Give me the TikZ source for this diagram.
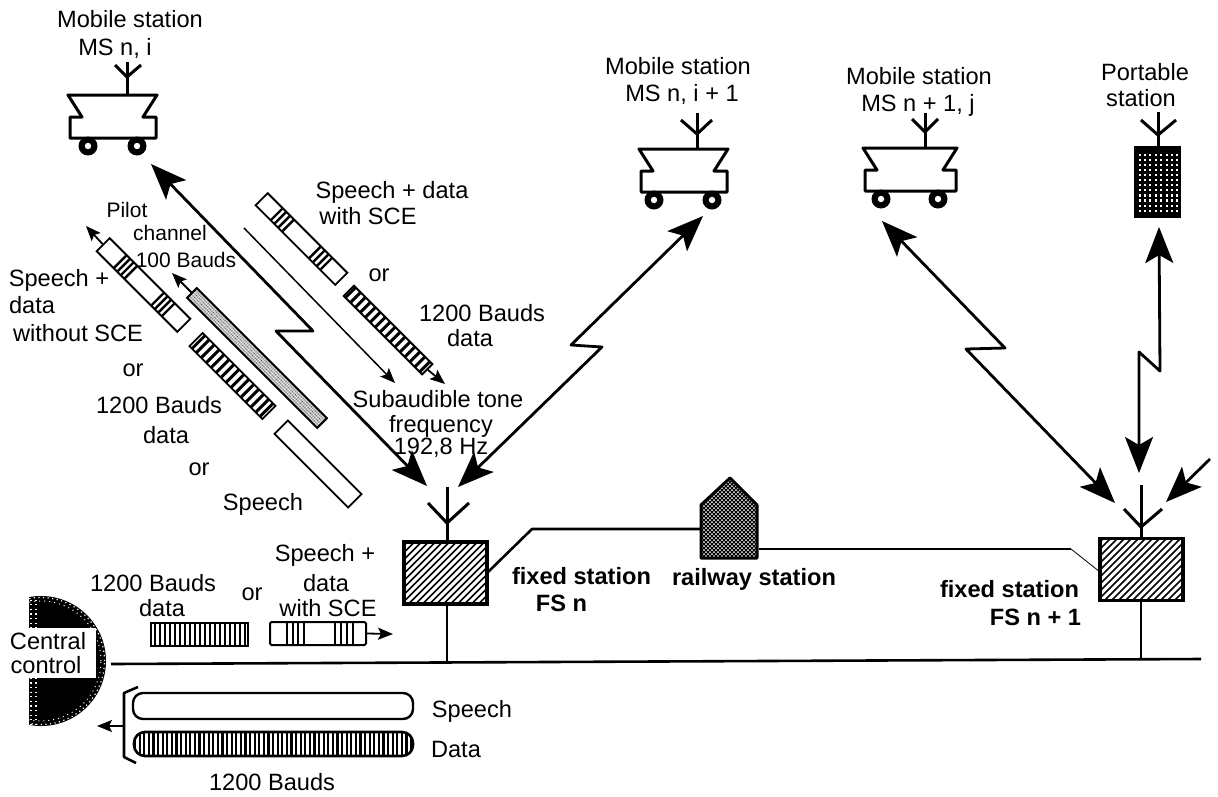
\documentclass[tikz,border=0pt]{standalone}
\usepackage{fontspec}
\setmainfont{Liberation Sans}
\usetikzlibrary{arrows.meta}
\tikzset{
  x=1pt,y=-1pt,
  txt/.style={anchor=base,inner sep=0pt,yshift=-8.5pt,font=\fontsize{23.6}{27}\selectfont},
  txtsmall/.style={anchor=base,inner sep=0pt,yshift=-7.5pt,font=\fontsize{21}{25}\selectfont},
  txtbold/.style={anchor=base,inner sep=0pt,yshift=-8.5pt,font=\fontsize{23.6}{27}\selectfont\bfseries},
  radiolink/.style={line width=2.8pt,line join=round,{Stealth[length=36pt,width=28pt,inset=8pt]}-{Stealth[length=36pt,width=28pt,inset=8pt]}},
  radiotail/.style={line width=2.8pt,-{Stealth[length=36pt,width=28pt,inset=8pt]}},
  smallarrow/.style={line width=1.8pt,-{Stealth[length=15pt,width=12pt,inset=3pt]}},
  thinarrow/.style={line width=1.5pt,-{Stealth[length=15pt,width=12pt,inset=3pt]}},
  wire/.style={line width=2.6pt,line join=round},
  obarbox/.style={draw,line width=1.8pt,inner sep=0pt,rotate=-45,minimum height=#1},
  fsbox/.style={draw,line width=3.4pt,inner sep=0pt,minimum width=83pt,minimum height=62pt},
  pics/car/.style n args={3}{code={
    \draw[line width=3pt,line join=round] (0,0) -- (14,22) -- (2,22) -- (2,43) -- ({#1-1},43) -- ({#1-1},22) -- ({#1-14},22) -- (#1,0) -- cycle;
    \fill (#2,51) circle[radius=9.5pt]; \fill (#3,51) circle[radius=9.5pt];
    \fill[white] (#2,51) circle[radius=3.2pt]; \fill[white] (#3,51) circle[radius=3.2pt];
  }},
}
% oblique bar: name, cx, cy, length, width, stripes (positions along the bar), stripe width
\newcommand{\obar}[7]{%
  \node[obarbox=#5,minimum width=#4pt,fill=white] (#1) at (#2,#3) {};
  \begin{scope}[shift={(#2,#3)},rotate=-45]
    \foreach \s in {#6} {\draw[line width=#7pt] (\s pt,-#5pt/2) -- (\s pt,#5pt/2);}
  \end{scope}}
% antenna: x, ytop, yarm, yjunction, ybottom, xleft, xright
\newcommand{\antenna}[7]{%
  \draw[line width=3pt] (#1,#2) -- (#1,#5);
  \draw[line width=3pt,line join=miter] (#6,#3) -- (#1,#4) -- (#7,#3);}
% hatched box: name, cx, cy
\newcommand{\hatchbox}[3]{%
  \begin{scope}
    \clip (#2-41.5,#3-31) rectangle (#2+41.5,#3+31);
    \foreach \a in {-100,-93,...,90} {\draw[line width=1.7pt] (#2+\a,#3+31) -- (#2+\a+62,#3-31);}
  \end{scope}
  \node[fsbox] (#1) at (#2,#3) {};}
\begin{document}
\begin{tikzpicture}
\useasboundingbox (0,0) rectangle (1218,796);
\fill[white] (0,0) rectangle (1218,796);

% ---------- vehicles ----------
\pic at (68,95) {car={89}{20}{69}};
\antenna{127}{62}{65}{77}{95}{115}{141}
\pic at (639,149) {car={89}{15}{73}};
\antenna{697}{113}{120}{134}{149}{681}{712}
\pic at (863,148) {car={94}{18}{75}};
\antenna{925}{113}{119}{132}{148}{912}{938}

% portable station
\fill (1134,146) rectangle (1181,218);
\foreach \i in {0,...,7} \foreach \j in {0,...,11}
  {\fill[white] (1138.5+\i*5.4,154+\j*5.05) rectangle ++(2.1,2.1);}
\node[inner sep=0pt,minimum width=47pt,minimum height=72pt] (ps) at (1157.5,182) {};
\antenna{1158}{112}{120}{135}{146}{1141}{1176}

% ---------- fixed stations ----------
\hatchbox{fsa}{445.5}{573}
\hatchbox{fsb}{1141.5}{569.5}
\antenna{447}{487}{503}{523}{542}{428}{469}
\antenna{1141}{485}{509}{527}{539}{1124}{1162}

% railway station
\begin{scope}
  \clip (730,478) -- (757,505) -- (757,558) -- (701,558) -- (701,505) -- cycle;
  \fill (695,470) rectangle (765,565);
  \foreach \i in {0,...,14} \foreach \j in {0,...,22}
    {\fill[white] (700+\i*4,478+\j*4) circle[radius=1pt];
     \fill[white] (702+\i*4,480+\j*4) circle[radius=1pt];}
\end{scope}
\draw[line width=3pt,line join=round] (730,478) -- (757,505) -- (757,558) -- (701,558) -- (701,505) -- cycle;
\coordinate (rsw) at (701,529);
\coordinate (rse) at (759,549);
\coordinate (k1) at (532,529);
\coordinate (k2) at (1071,549);
\coordinate (fsaw) at (487,573);
\coordinate (fsbw) at (1100,572);
\draw[wire] (fsaw) -- (k1) -- (rsw);
\draw[line width=1.8pt] (rse) -- (k2);
\draw[line width=0.8pt] (k2) -- (fsbw);

% bus
\coordinate (busl) at (111,664);
\coordinate (busr) at (1201,659);
\coordinate (busa) at (447,662);
\coordinate (busb) at (1141,659);
\draw[line width=2.6pt] (busl) -- (busr);
\draw[line width=2.6pt] (447,604) -- (busa);
\draw[line width=2.6pt] (1141,600) -- (busb);

% ---------- radio links ----------
\coordinate (ta1) at (151,164); \coordinate (za1) at (313,331); \coordinate (zb1) at (276,331); \coordinate (tb1) at (427,486);
\draw[radiolink] (ta1) -- (za1) -- (zb1) -- (tb1);
\coordinate (ta2) at (458,487); \coordinate (za2) at (602,347); \coordinate (zb2) at (571,345); \coordinate (tb2) at (703,216);
\draw[radiolink] (ta2) -- (za2) -- (zb2) -- (tb2);
\coordinate (ta3) at (882,221); \coordinate (za3) at (1005,348); \coordinate (zb3) at (966,349); \coordinate (tb3) at (1115,503);
\draw[radiolink] (ta3) -- (za3) -- (zb3) -- (tb3);
\coordinate (ta4) at (1159,227); \coordinate (za4) at (1160,371); \coordinate (zb4) at (1139,352); \coordinate (tb4) at (1139,473);
\draw[radiolink] (ta4) -- (za4) -- (zb4) -- (tb4);
\coordinate (ts5) at (1210,459); \coordinate (tt5) at (1166,502);
\draw[radiotail] (ts5) -- (tt5);

% ---------- oblique bars ----------
\obar{barA}{143.5}{285}{114}{18.4}{-33,-28,-23,-18,20,25,30,35}{2.4}
\coordinate (tipA) at (86,226);
\draw[smallarrow] (barA.west) -- (tipA);

\node[obarbox=13.5,minimum width=184pt,fill=gray!45] (barP) at (257,358) {};
\begin{scope}[shift={(257,358)},rotate=-45]
  \clip (-92pt,-6.75pt) rectangle (92pt,6.75pt);
  \foreach \i in {-46,...,46} \foreach \j in {-2,...,2}
    {\fill[white] (\i*2pt,\j*2.6pt) circle[radius=0.55pt];
     \fill[black!70] (\i*2pt+1pt,\j*2.6pt+1.3pt) circle[radius=0.55pt];}
\end{scope}
\node[obarbox=13.5,minimum width=184pt] (barPb) at (257,358) {};
\coordinate (tipP) at (172,273);
\draw[smallarrow] (barP.west) -- (tipP);

\obar{barD}{232.5}{376}{103}{18.5}{-48,-42,-35,-28,-21,-14,-7,0,7,14,21,28,35,42,48}{3}
\obar{barS}{318}{464}{104}{19}{}{0}

\obar{barB}{301.5}{239}{112.5}{17}{-35,-30,-24.5,-19,19,24.5,30,35}{2.4}
\coordinate (linea) at (244,228);
\coordinate (lineb) at (395,383);
\draw[thinarrow] (linea) -- (lineb);
\obar{barE}{388}{330}{111}{14.5}{-53,-46,-39,-32,-25,-18,-11,-4,3,10,17,24,31,38,45,52}{3}
\coordinate (tipE) at (445,384);
\draw[smallarrow] (barE.east) -- (tipE);

% ---------- horizontal bars ----------
\node[draw,line width=2.6pt,inner sep=0pt,minimum width=97pt,minimum height=23pt] (hdata) at (199.5,634.5) {};
\foreach \s in {155,160,...,245} {\draw[line width=2.2pt] (\s,623) -- (\s,646);}
\node[draw,line width=2pt,inner sep=0pt,minimum width=96pt,minimum height=23pt,rounded corners=1.5pt] (hsce) at (318,633.5) {};
\foreach \s in {287,293,298,304,335,341,347,353} {\draw[line width=1.5pt] (\s,622) -- (\s,645);}
\coordinate (tipH) at (393,634);
\draw[smallarrow] (hsce.east) -- (tipH);

\node[draw,line width=2.4pt,inner sep=0pt,minimum width=280pt,minimum height=26pt,rounded corners=10pt] (pills) at (273,706) {};
\begin{scope}
  \clip[rounded corners=11pt] (134,732) rectangle (413,756);
  \foreach \s in {135,139.6,...,414} {\draw[line width=2.2pt] (\s,730) -- (\s,758);}
\end{scope}
\node[draw,line width=2.6pt,inner sep=0pt,minimum width=279pt,minimum height=24pt,rounded corners=11pt] (pilld) at (273.5,744) {};

% bracket and arrow to the central control
\draw[line width=2.6pt,line join=round] (138,687) -- (124,693) -- (124,757) -- (136,763);
\coordinate (brk) at (124,726);
\coordinate (tipC) at (97,726);
\draw[smallarrow] (brk) -- (tipC);

% ---------- central control ----------
\begin{scope}
  \clip (29,590) rectangle (120,732);
  \fill (41,661) circle[radius=65pt];
  \draw[white,line width=1.2pt,dash pattern=on 1.2pt off 3.4pt] (41,661) circle[radius=63.5pt];
  \draw[white,line width=1pt,dash pattern=on 1pt off 4pt] (41,661) circle[radius=60pt];
  \foreach \xx in {31,36}
    {\draw[white,line width=1.2pt,dash pattern=on 1.2pt off 3.4pt] (\xx,595) -- (\xx,728);}
\end{scope}
\fill[white] (0,628) rectangle (96,678);
\node[txt] (cc1) at (48,641) {Central};
\node[txt] (cc2) at (46,665) {control};

% ---------- labels ----------
\node[txt] (l1a) at (130,19) {Mobile station};
\node[txt] (l1b) at (115,47) {MS n, i};
\node[txt] (l2a) at (678,66) {Mobile station};
\node[txt] (l2b) at (682,93) {MS n, i + 1};
\node[txt] (l3a) at (919,76) {Mobile station};
\node[txt] (l3b) at (918,103) {MS n + 1, j};
\node[txt] (l4a) at (1145,72) {Portable};
\node[txt] (l4b) at (1141,98) {station};

\node[txt] (u1) at (392,190) {Speech + data};
\node[txt] (u2) at (368,216) {with SCE};
\node[txt] (u3) at (379,273) {or};
\node[txt] (u4) at (482,313) {1200 Bauds};
\node[txt] (u5) at (470,338) {data};
\node[txt] (st1) at (438,399) {Subaudible tone};
\node[txt] (st2) at (441,424) {frequency};
\node[txt] (st3) at (441,446) {192,8 Hz};

\node[txtsmall] (p1) at (127,210) {Pilot};
\node[txtsmall] (p2) at (170,233) {channel};
\node[txtsmall] (p3) at (186,260) {100 Bauds};

\node[txt] (a1) at (59,278) {Speech +};
\node[txt] (a2) at (32,305) {data};
\node[txt] (a3) at (78,333) {without SCE};
\node[txt] (a4) at (133,368) {or};
\node[txt] (a5) at (159,405) {1200 Bauds};
\node[txt] (a6) at (166,435) {data};
\node[txt] (a7) at (199,467) {or};
\node[txt] (a8) at (263,502) {Speech};

\node[txt] (h1) at (153,583) {1200 Bauds};
\node[txt] (h2) at (162,608) {data};
\node[txt] (h3) at (252,592) {or};
\node[txt] (h4) at (325,553) {Speech +};
\node[txt] (h5) at (326,583) {data};
\node[txt] (h6) at (328,608) {with SCE};

\node[txt] (b1) at (472,709) {Speech};
\node[txt] (b2) at (456,749) {Data};
\node[txt] (b3) at (272,782) {1200 Bauds};

\node[txtbold] (f1) at (581.5,576) {fixed station};
\node[txtbold] (f2) at (561.5,603) {FS n};
\node[txtbold] (f3) at (754,577) {railway station};
\node[txtbold] (f4) at (1009.5,589) {fixed station};
\node[txtbold] (f5) at (1035.5,617) {FS n + 1};
\end{tikzpicture}
\end{document}
